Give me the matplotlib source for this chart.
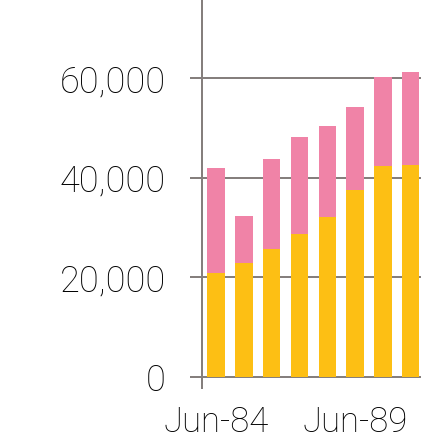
import matplotlib
matplotlib.use("Agg")
import matplotlib.pyplot as plt

# Data
categories = ["Jun-84", "Jun-85", "Jun-86", "Jun-87", "Jun-88", "Jun-89", "Jun-90", "Jun-91"]
series_lower = [20800, 22800, 25700, 28700, 32100, 37600, 42400, 42600]
series_upper = [21200, 9500, 18000, 19600, 18300, 16700, 17800, 18700]
y_ticks = [0, 20000, 40000, 60000]
x_tick_positions = [0, 5]

YELLOW = "#FDBF14"
PINK = "#F083A7"
GRAY = "#857F7D"

DPI = 100
W, H = 421, 438
fig = plt.figure(figsize=(W / DPI, H / DPI), dpi=DPI)
px = 72.0 / DPI  # points per pixel

ax_left = 202 / W
ax_bottom = (H - 388) / H
ax_height = 388 / H
ax = fig.add_axes([ax_left, ax_bottom, 1 - ax_left, ax_height])

x = list(range(len(categories)))
ax.bar(x, series_lower, width=0.63, color=YELLOW, zorder=3)
ax.bar(x, series_upper, width=0.63, bottom=series_lower, color=PINK, zorder=3)

ax.set_xlim(-0.507, 7.37)
ax.set_ylim(-2210, 75730)

ax.set_yticks(y_ticks)
ax.set_yticklabels([f"{v:,}" for v in y_ticks])
ax.set_xticks(x_tick_positions)
ax.set_xticklabels([categories[i] for i in x_tick_positions])

ax.grid(axis="y", color=GRAY, linewidth=2 * px, zorder=1)
ax.grid(axis="x", visible=False)

for side in ["top", "right", "bottom"]:
    ax.spines[side].set_visible(False)
ax.spines["left"].set_color(GRAY)
ax.spines["left"].set_linewidth(2 * px)

ax.tick_params(axis="y", direction="out", length=12 * px, width=2 * px,
               color=GRAY, pad=24 * px, labelsize=26)
ax.tick_params(axis="x", length=0, pad=12.5, labelsize=25)
for lab in ax.get_yticklabels() + ax.get_xticklabels():
    lab.set_fontfamily(["Roboto", "DejaVu Sans"])
    lab.set_fontweight("light")
    lab.set_color("black")

fig.savefig("out.png", dpi=DPI)
